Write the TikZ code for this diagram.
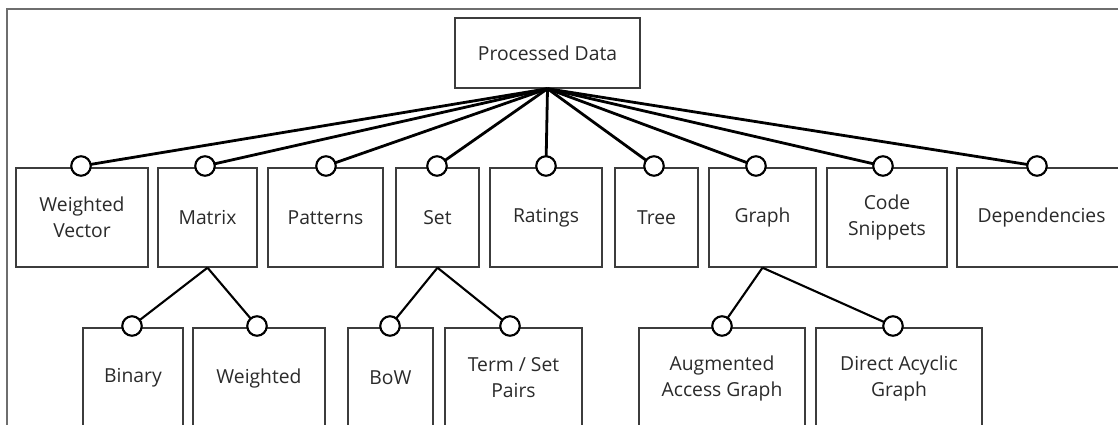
\documentclass[tikz,border=0pt]{standalone}
\usepackage{fontspec}
\setmainfont{Open Sans}
\definecolor{boxline}{HTML}{3C3C3C}
\definecolor{txt}{HTML}{2A2A2A}
\definecolor{frameline}{HTML}{6E6E6E}
\begin{document}
\begin{tikzpicture}[x=1pt,y=-1pt,
  box/.style={draw=boxline,line width=1.4pt,fill=white,rectangle,inner sep=0pt,
    align=center,text=txt,font=\fontsize{19.3}{26}\selectfont},
  toprow/.style={box,minimum height=99pt},
  botrow/.style={box,minimum height=100pt},
  port/.style={circle,draw=black,line width=2.1pt,fill=white,minimum size=19.5pt,inner sep=0pt},
  mainlink/.style={line width=2.8pt,black},
  sublink/.style={line width=2.1pt,black}]
\useasboundingbox (0,0) rectangle (1118,425);
\clip (0,0) rectangle (1118,425);
\fill[white] (0,0) rectangle (1118,425);

% outer frame (top and left edges)
\draw[frameline,line width=1.3pt] (7,430) -- (7,9) -- (1125,9);

% root
\node[box,minimum width=185pt,minimum height=70pt] (pd) at (547.5,53) {Processed Data};

% first level
\node[toprow,minimum width=132pt] (wv)   at (82,217.5)    {Weighted\\Vector};
\node[toprow,minimum width=99pt]  (mat)  at (207.5,217.5) {Matrix};
\node[toprow,minimum width=115pt] (pat)  at (325.5,217.5) {Patterns};
\node[toprow,minimum width=83pt]  (set)  at (437.5,217.5) {Set};
\node[toprow,minimum width=112pt] (rat)  at (546,217.5)   {Ratings};
\node[toprow,minimum width=83pt]  (tree) at (656.5,217.5) {Tree};
\node[toprow,minimum width=107pt] (gr)   at (762.5,217.5) {Graph};
\node[toprow,minimum width=120pt] (code) at (887,217.5)   {Code\\Snippets};
\node[toprow,minimum width=169pt] (dep)  at (1041.5,217.5){Dependencies};

% second level
\node[botrow,minimum width=100pt] (bin)  at (133,378)   {Binary};
\node[botrow,minimum width=132pt] (wgt)  at (259,378)   {Weighted};
\node[botrow,minimum width=85pt]  (bow)  at (390.5,378) {BoW};
\node[botrow,minimum width=137pt] (term) at (513.5,378) {Term / Set\\Pairs};
\node[botrow,minimum width=166pt] (aag)  at (722,378)   {Augmented\\Access Graph};
\node[botrow,minimum width=166pt] (dag)  at (899,378)   {Direct Acyclic\\Graph};

% connection points on the top edges
\coordinate (cwv)   at (81,166);
\coordinate (cmat)  at (205,166);
\coordinate (cpat)  at (326,166);
\coordinate (cset)  at (437,166);
\coordinate (crat)  at (546,166);
\coordinate (ctree) at (654,166);
\coordinate (cgr)   at (756,166);
\coordinate (ccode) at (883,166);
\coordinate (cdep)  at (1037,166);
\coordinate (cbin)  at (132,326);
\coordinate (cwgt)  at (257,326);
\coordinate (cbow)  at (390,326);
\coordinate (cterm) at (510,326);
\coordinate (caag)  at (722,326);
\coordinate (cdag)  at (893,326);

% links
\foreach \c in {cwv,cmat,cpat,cset,crat,ctree,cgr,ccode,cdep}
  \draw[mainlink] (pd.south) -- (\c);
\draw[sublink] (mat.south) -- (cbin);
\draw[sublink] (mat.south) -- (cwgt);
\draw[sublink] (set.south) -- (cbow);
\draw[sublink] (set.south) -- (cterm);
\draw[sublink] (gr.south) -- (caag);
\draw[sublink] (gr.south) -- (cdag);

% ports
\foreach \c in {cwv,cmat,cpat,cset,crat,ctree,cgr,ccode,cdep,cbin,cwgt,cbow,cterm,caag,cdag}
  \node[port] (p\c) at (\c) {};
\end{tikzpicture}
\end{document}
